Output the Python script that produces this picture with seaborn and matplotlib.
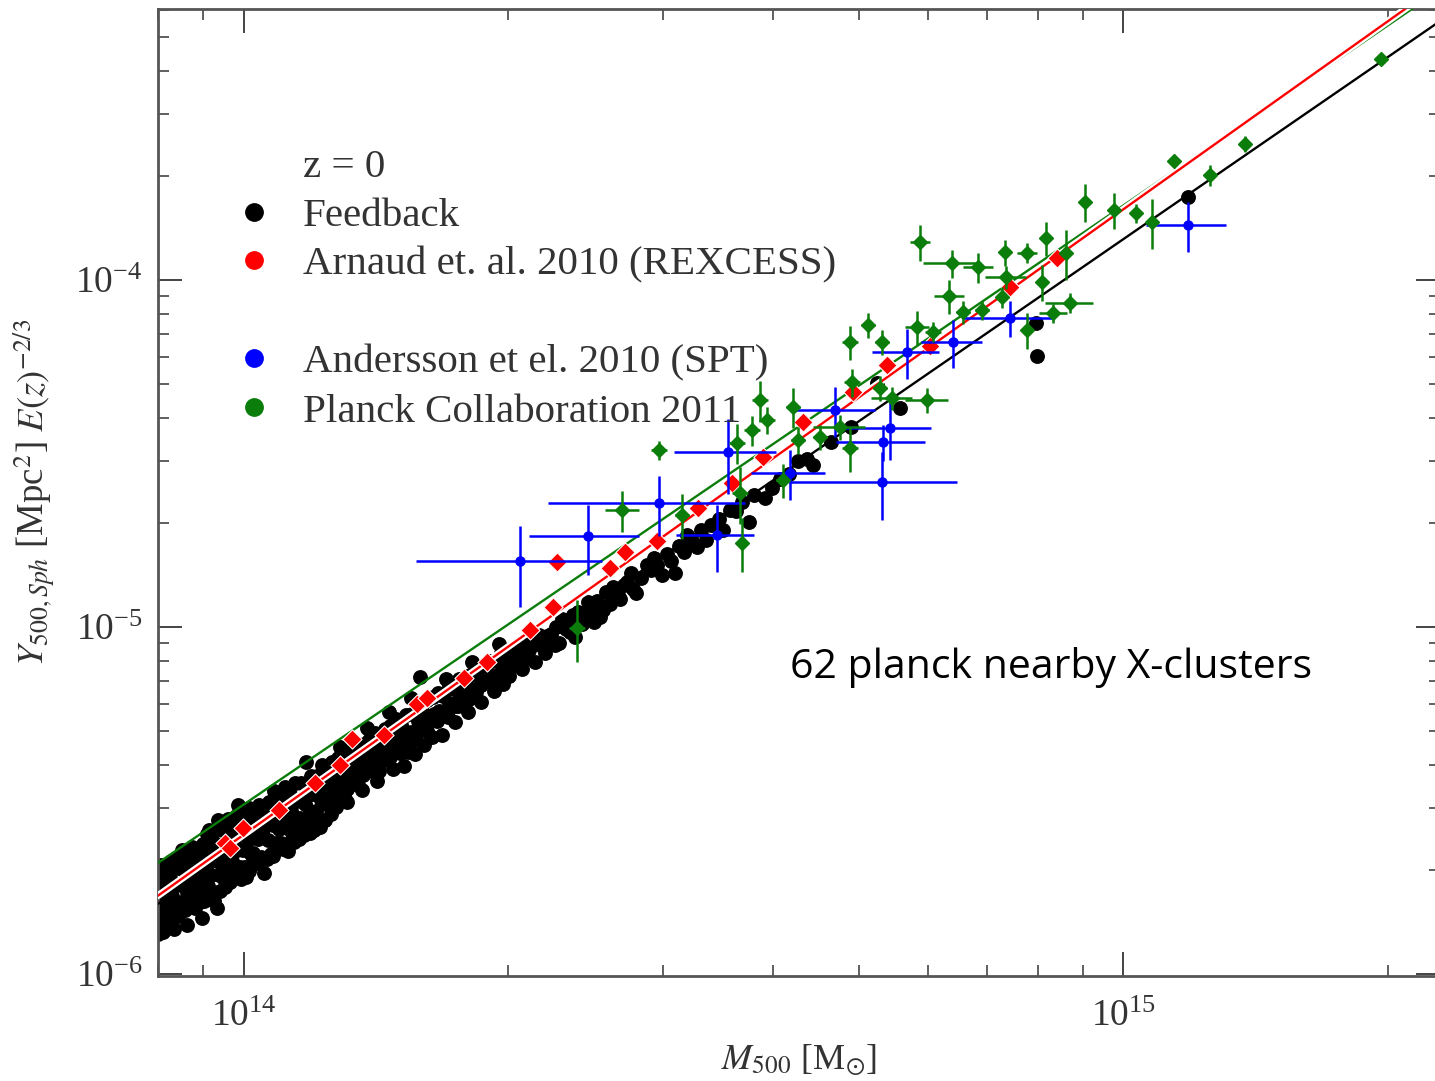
import numpy as np
import matplotlib
matplotlib.use("Agg")
import matplotlib.pyplot as plt
import seaborn as sns
from matplotlib.lines import Line2D
from matplotlib import patheffects as pe
from matplotlib.ticker import NullFormatter

# ---------------- data ----------------
# Feedback simulation clusters: log10(M500/Msun), log10(Y500 E(z)^-2/3 / Mpc^2)
black_lgm = [
    13.900, 13.902, 13.901, 13.903,
    13.906, 13.904, 13.907, 13.905, 13.906,
    13.911, 13.913, 13.912, 13.914,
    13.918, 13.917, 13.919, 13.920, 13.918,
    13.925, 13.923, 13.924, 13.926,
    13.930, 13.931, 13.929, 13.932,
    13.937, 13.935, 13.936, 13.936,
    13.942, 13.943, 13.941, 13.944,
    13.948, 13.949, 13.947, 13.950,
    13.954, 13.952, 13.953, 13.953,
    13.958, 13.959, 13.957, 13.960, 13.951,
    13.964, 13.965, 13.963, 13.962,
    13.971, 13.969, 13.970, 13.972, 13.970,
    13.976, 13.977, 13.975, 13.978,
    13.982, 13.983, 13.981, 13.984,
    13.988, 13.989, 13.987, 13.990,
    13.994, 13.995, 13.993, 13.996,
    14.000, 14.001, 13.999, 14.002,
    14.006, 14.007, 14.005, 14.008, 14.006,
    14.012, 14.013, 14.011,
    14.018, 14.019, 14.017, 14.020,
    14.023, 14.024, 14.022,
    14.029, 14.030, 14.028, 14.031,
    14.035, 14.036, 14.034, 14.037,
    14.041, 14.042, 14.040, 14.043,
    14.047, 14.048, 14.046,
    14.053, 14.054, 14.052, 14.055,
    14.059, 14.060, 14.058,
    14.065, 14.066, 14.064, 14.067,
    14.071, 14.072, 14.070, 14.073,
    14.077, 14.078, 14.076,
    14.080,
    14.083, 14.084, 14.082, 14.085,
    14.089, 14.090, 14.088,
    14.095, 14.096, 14.094,
    14.101, 14.102, 14.100,
    14.107, 14.108, 14.106,
    14.113, 14.114, 14.112, 14.115,
    14.119, 14.120, 14.118,
    14.125, 14.126, 14.124,
    14.131, 14.132, 14.130,
    14.137, 14.138, 14.136,
    14.143, 14.144, 14.142,
    14.149, 14.150, 14.148,
    14.155, 14.156, 14.154,
    14.161, 14.162, 14.160,
    14.167, 14.168, 14.166,
    14.173, 14.174, 14.172,
    14.179, 14.180, 14.178,
    14.185, 14.186, 14.184,
    14.187,
    14.191, 14.192, 14.190,
    14.197, 14.198, 14.196,
    14.201,
    14.203, 14.204,
    14.209, 14.210, 14.208,
    14.214,
    14.215, 14.216,
    14.221, 14.222, 14.220,
    14.227, 14.228,
    14.233, 14.234, 14.232,
    14.239, 14.240,
    14.245, 14.246, 14.244,
    14.251, 14.252,
    14.257, 14.258, 14.256,
    14.263, 14.264,
    14.269, 14.270,
    14.275, 14.276,
    14.281, 14.282,
    14.287, 14.288,
    14.293, 14.294,
    14.299, 14.300,
    14.305, 14.306,
    14.312, 14.313,
    14.320, 14.321,
    14.328,
    14.336, 14.337,
    14.345,
    14.354, 14.355,
    14.362,
    14.370, 14.371,
    14.380,
    14.390, 14.391,
    14.405, 14.412, 14.425, 14.436, 14.446, 14.458, 14.470, 14.490,
    14.495, 14.510, 14.526, 14.540, 14.553, 14.574, 14.580, 14.593,
    14.610, 14.630, 14.647, 14.668, 14.690, 14.720, 14.746,
    14.901, 14.902, 15.073,
    # extra members of the dense low-mass cloud
    13.903, 13.909, 13.915, 13.921, 13.927, 13.933, 13.939, 13.945,
    13.955, 13.961, 13.967, 13.973, 13.979, 13.985, 13.991, 13.997,
    14.003, 14.009, 14.015, 14.027, 14.033, 14.045, 14.051, 14.057,
    14.063, 14.069, 14.075, 14.087, 14.093, 14.099,
    # extra members, intermediate masses
    14.105, 14.118, 14.135, 14.152, 14.170, 14.182, 14.195, 14.205,
    14.225, 14.240, 14.255, 14.270, 14.285, 14.295,
    14.110, 14.140, 14.165, 14.190, 14.230, 14.260, 14.290,
    14.302, 14.308, 14.316, 14.324, 14.331, 14.340, 14.343, 14.349,
    14.358, 14.366, 14.374, 14.377, 14.385, 14.395, 14.398, 14.402,
    14.408, 14.416, 14.420, 14.428, 14.432, 14.440, 14.443, 14.452,
    14.463, 14.466, 14.475, 14.481, 14.486, 14.500, 14.504, 14.515,
    14.520, 14.531, 14.545, 14.560, 14.566, 14.600, 14.620, 14.640,
]
black_lgy = [
    -5.714, -5.764, -5.814, -5.854,
    -5.687, -5.737, -5.787, -5.827, -5.867,
    -5.705, -5.755, -5.805, -5.845,
    -5.674, -5.724, -5.774, -5.814, -5.854,
    -5.694, -5.744, -5.794, -5.834,
    -5.644, -5.694, -5.744, -5.789,
    -5.664, -5.714, -5.764, -5.859,
    -5.633, -5.683, -5.733, -5.783,
    -5.653, -5.703, -5.753, -5.793,
    -5.624, -5.674, -5.724, -5.839,
    -5.596, -5.646, -5.696, -5.746, -5.766,
    -5.615, -5.665, -5.715, -5.765,
    -5.555, -5.625, -5.675, -5.715, -5.810,
    -5.585, -5.635, -5.685, -5.725,
    -5.554, -5.604, -5.654, -5.704,
    -5.574, -5.624, -5.674, -5.714,
    -5.513, -5.593, -5.643, -5.693,
    -5.543, -5.593, -5.643, -5.693,
    -5.523, -5.563, -5.613, -5.653, -5.703,
    -5.542, -5.592, -5.652,
    -5.512, -5.562, -5.612, -5.662,
    -5.709, -5.533, -5.583,
    -5.503, -5.553, -5.613, -5.653,
    -5.472, -5.522, -5.572, -5.622,
    -5.492, -5.542, -5.582, -5.622,
    -5.462, -5.512, -5.562,
    -5.481, -5.531, -5.581, -5.611,
    -5.451, -5.501, -5.551,
    -5.451, -5.501, -5.551, -5.581,
    -5.390, -5.460, -5.510, -5.550,
    -5.430, -5.480, -5.530,
    -5.585,
    -5.429, -5.479, -5.529, -5.559,
    -5.399, -5.449, -5.499,
    -5.419, -5.469, -5.509,
    -5.388, -5.438, -5.488,
    -5.378, -5.428, -5.478,
    -5.357, -5.407, -5.457, -5.497,
    -5.377, -5.427, -5.467,
    -5.347, -5.397, -5.447,
    -5.366, -5.416, -5.456,
    -5.336, -5.386, -5.426,
    -5.326, -5.376, -5.416,
    -5.305, -5.355, -5.395,
    -5.325, -5.375, -5.415,
    -5.294, -5.344, -5.384,
    -5.284, -5.334, -5.374,
    -5.264, -5.314, -5.354,
    -5.283, -5.333, -5.363,
    -5.253, -5.303, -5.343,
    -5.360,
    -5.252, -5.302, -5.332,
    -5.222, -5.272, -5.312,
    -5.144,
    -5.242, -5.292,
    -5.211, -5.261, -5.301,
    -5.317,
    -5.201, -5.251,
    -5.191, -5.241, -5.271,
    -5.200, -5.250,
    -5.170, -5.220, -5.260,
    -5.179, -5.229,
    -5.149, -5.199, -5.229,
    -5.169, -5.209,
    -5.138, -5.178, -5.208,
    -5.138, -5.188,
    -5.118, -5.168,
    -5.107, -5.157,
    -5.097, -5.137,
    -5.096, -5.146,
    -5.076, -5.116,
    -5.086, -5.126,
    -5.065, -5.105,
    -5.083, -5.053,
    -5.049, -5.089,
    -5.046,
    -5.022, -5.052,
    -5.026,
    -5.052, -5.001,
    -4.977,
    -4.983, -5.013,
    -4.956,
    -4.958, -4.928,
    -4.971, -4.900, -4.908, -4.869, -4.902, -4.821, -4.820, -4.844,
    -4.767, -4.751, -4.749, -4.689, -4.663, -4.697, -4.620, -4.628,
    -4.573, -4.523, -4.533, -4.467, -4.424, -4.297, -4.369,
    -4.123, -4.219, -3.760,
    # extra members of the dense low-mass cloud
    -5.885, -5.878, -5.690, -5.870, -5.660, -5.815, -5.640, -5.810,
    -5.790, -5.585, -5.790, -5.760, -5.750, -5.735, -5.545, -5.725,
    -5.720, -5.690, -5.680, -5.670, -5.660, -5.640, -5.645, -5.620,
    -5.610, -5.600, -5.595, -5.575, -5.555, -5.540,
    # extra members, intermediate masses
    -5.520, -5.505, -5.470, -5.445, -5.410, -5.400, -5.365, -5.340,
    -5.310, -5.275, -5.245, -5.215, -5.185, -5.165,
    -5.345, -5.290, -5.245, -5.205, -5.150, -5.100, -5.050,
    -5.140, -5.075, -5.120, -5.065, -5.100, -5.040, -5.075, -5.020,
    -5.045, -5.005, -4.965, -5.030, -4.990, -4.945, -4.985, -4.925,
    -4.950, -4.935, -4.885, -4.920, -4.880, -4.845, -4.890, -4.860,
    -4.835, -4.800, -4.850, -4.790, -4.810, -4.785, -4.735, -4.770,
    -4.720, -4.705, -4.720, -4.665, -4.640, -4.600, -4.560, -4.515,
]

# Arnaud et al. 2010 (REXCESS): log10 M500, log10 Y
red_lgm = [13.979, 13.985, 13.999, 14.040, 14.081, 14.110, 14.123, 14.160,
           14.197, 14.209, 14.250, 14.277, 14.326, 14.352, 14.356, 14.417,
           14.434, 14.470, 14.516, 14.555, 14.590, 14.636, 14.693, 14.731,
           14.780, 14.871, 14.924]
red_lgy = [-5.622, -5.637, -5.579, -5.528, -5.450, -5.398, -5.323, -5.310,
           -5.222, -5.205, -5.148, -5.101, -5.009, -4.942, -4.813, -4.830,
           -4.784, -4.752, -4.657, -4.585, -4.510, -4.409, -4.323, -4.245,
           -4.190, -4.020, -3.937]

# Andersson et al. 2010 (SPT): M500 [1e14 Msun], Y [1e-5 Mpc^2], errors
blue_m  = [2.062, 2.463, 2.966, 3.553, 3.452, 4.178, 4.700, 5.429, 5.330,
           5.316, 5.675, 6.402, 7.430, 11.84]
blue_y  = [1.549, 1.829, 2.277, 3.194, 1.841, 2.779, 4.220, 3.746, 3.413,
           2.617, 6.201, 6.625, 7.771, 14.40]
blue_dm = [0.49, 0.35, 0.75, 0.47, 0.35, 0.40, 0.52, 0.62, 0.62,
           1.15, 0.49, 0.51, 0.88, 1.22]
blue_dy = [0.41, 0.42, 0.45, 0.77, 0.40, 0.45, 0.70, 0.72, 0.40,
           0.58, 1.00, 1.03, 0.93, 2.37]

# Planck Collaboration 2011: M500 [1e14 Msun], Y [1e-5 Mpc^2], errors
green_m  = [19.62, 13.74, 11.41, 12.54, 10.77, 10.33, 9.754, 9.040, 5.873,
            6.385, 6.834, 7.336, 7.768, 8.166, 8.604, 7.356, 6.335, 8.081,
            8.694, 6.571, 7.768, 5.826, 6.076, 7.278, 8.317, 6.905, 5.126,
            4.889, 5.316, 4.915, 5.288, 5.458, 5.980, 4.889, 4.762, 3.863,
            4.211, 3.935, 3.784, 3.638, 3.667, 4.103, 2.966, 2.692, 3.149,
            2.393, 3.686, 4.520, 4.267]
green_y  = [43.25, 24.66, 22.07, 20.07, 14.72, 15.57, 15.91, 16.81, 12.87,
            11.19, 10.90, 12.04, 11.96, 13.21, 11.96, 10.20, 8.994, 9.867,
            8.585, 8.087, 7.177, 7.320, 7.080, 8.930, 8.033, 8.194, 7.420,
            6.625, 6.625, 5.082, 4.885, 4.571, 4.510, 3.281, 3.770, 4.510,
            4.305, 3.950, 3.696, 3.391, 2.433, 2.652, 3.236, 2.174, 2.102,
            0.993, 1.746, 3.528, 3.459]
green_dm = [0.25, 0.15, 0.15, 0.15, 0.00, 0.12, 0.12, 0.12, 0.15,
            0.47, 0.27, 0.12, 0.20, 0.12, 0.12, 0.39, 0.25, 0.12,
            0.55, 0.12, 0.12, 0.18, 0.12, 0.12, 0.30, 0.12, 0.10,
            0.10, 0.10, 0.10, 0.10, 0.29, 0.33, 0.10, 0.32, 0.08,
            0.08, 0.08, 0.08, 0.08, 0.08, 0.08, 0.06, 0.12, 0.06,
            0.05, 0.06, 0.08, 0.08]
green_dy = [1.70, 1.30, 0.90, 1.45, 2.44, 1.00, 1.85, 2.10, 1.54,
            1.04, 1.08, 1.04, 0.80, 1.49, 1.98, 0.81, 1.01, 1.18,
            0.57, 0.64, 0.86, 0.83, 0.47, 0.60, 0.50, 0.50, 0.60,
            0.75, 0.53, 0.47, 0.40, 0.35, 0.36, 0.48, 0.30, 0.60,
            0.57, 0.35, 0.37, 0.45, 0.45, 0.30, 0.21, 0.29, 0.31,
            0.20, 0.31, 0.30, 0.30]

# best-fit power laws: log10 Y = norm + slope * (log10 M - 14)
fit_names = ["Feedback", "Arnaud", "Planck"]
fit_norm  = [-5.628, -5.599, -5.512]
fit_slope = [1.746, 1.803, 1.727]
fit_color = ["black", "red", "#0a7d0a"]

legend_labels = ["z = 0", "Feedback", "Arnaud et. al. 2010 (REXCESS)", "",
                 "Andersson et el. 2010 (SPT)", "Planck Collaboration 2011"]
legend_colors = [None, "black", "red", None, "blue", "#0a7d0a"]

XLIM = (10 ** 13.9028, 10 ** 15.3597)
YLIM = (10 ** -6.0058, 10 ** -3.219)

# ---------------- figure ----------------
sns.set_theme(style="ticks")
plt.rcParams['font.family'] = ['Liberation Serif', 'DejaVu Serif']
plt.rcParams['mathtext.fontset'] = 'stix'

W, H = 1435, 1081
fig = plt.figure(figsize=(W / 100, H / 100), dpi=100)
ax = fig.add_axes([158 / W, (H - 976) / H, (1440 - 158) / W, (976 - 9) / H])
ax.set_xscale('log')
ax.set_yscale('log')

sns.scatterplot(x=10 ** np.array(black_lgm), y=10 ** np.array(black_lgy),
                color='black', s=115, linewidth=0, ax=ax, zorder=2, legend=False)

lgx = np.log10(np.array(XLIM))
for name, nrm, slp, col in zip(fit_names, fit_norm, fit_slope, fit_color):
    yy = 10 ** (nrm + slp * (lgx - 14.0))
    sns.lineplot(x=10 ** lgx, y=yy, color=col, lw=1.7, ax=ax, zorder=3,
                 legend=False, estimator=None, sort=False)
    if name == "Arnaud":
        ax.lines[-1].set_path_effects([pe.Stroke(linewidth=5, foreground='white'),
                                       pe.Normal()])
        ax.lines[-1].set_zorder(3.2)

sns.scatterplot(x=10 ** np.array(red_lgm), y=10 ** np.array(red_lgy),
                color='red', marker='D', s=95, edgecolor='white', linewidth=0.8,
                ax=ax, zorder=4, legend=False)

ax.errorbar(np.array(blue_m) * 1e14, np.array(blue_y) * 1e-5,
            xerr=np.array(blue_dm) * 1e14, yerr=np.array(blue_dy) * 1e-5,
            fmt='o', color='blue', ms=6.5, elinewidth=1.8, capsize=0, zorder=5)
ax.errorbar(np.array(green_m) * 1e14, np.array(green_y) * 1e-5,
            xerr=np.array(green_dm) * 1e14, yerr=np.array(green_dy) * 1e-5,
            fmt='D', color='#0a7d0a', ms=7.5, elinewidth=1.8, capsize=0, zorder=6)

ax.set_xlim(*XLIM)
ax.set_ylim(*YLIM)

# ticks / spines
for s in ax.spines.values():
    s.set_linewidth(2.0)
    s.set_color('#555555')
ax.tick_params(which='both', direction='in', top=True, right=True,
               color='#444444', labelcolor='#333333')
ax.tick_params(which='major', length=17, width=1.4, labelsize=27)
ax.tick_params(axis='x', which='major', pad=17)
ax.tick_params(axis='y', which='major', pad=11)
ax.tick_params(which='minor', length=8, width=1.2)
ax.xaxis.set_minor_formatter(NullFormatter())
ax.yaxis.set_minor_formatter(NullFormatter())

ax.set_xlabel(r'$M_{500}$ [M$_{\odot}$]', fontsize=26, color='#333333')
ax.set_ylabel(r'$Y_{500,Sph}$ [Mpc$^{2}$] $E(z)^{-2/3}$', fontsize=26.5, color='#333333')
ax.xaxis.set_label_coords(0.5, -0.069)
ax.yaxis.set_label_coords(-0.077, 0.5)

# legend
handles = []
for lab, col in zip(legend_labels, legend_colors):
    if col is None:
        handles.append(Line2D([], [], linestyle='none', marker='none'))
    else:
        handles.append(Line2D([], [], linestyle='none', marker='o', ms=12.5,
                              color=col))
leg = ax.legend(handles, legend_labels, loc='upper left',
                bbox_to_anchor=((234 - 158) / 1282, 0.856),
                frameon=False, borderpad=0, borderaxespad=0,
                handlelength=1.0, handletextpad=0.69, labelspacing=0.275,
                prop={'family': 'Liberation Serif', 'size': 29.5})
for t in leg.get_texts():
    t.set_color('#333333')

ax.text((790 - 158) / 1282, (976 - 678) / 967, "62 planck nearby X-clusters",
        transform=ax.transAxes, fontsize=29.5, family='Open Sans',
        ha='left', va='baseline', color='black', zorder=10)

fig.savefig('out.png', dpi=100)
